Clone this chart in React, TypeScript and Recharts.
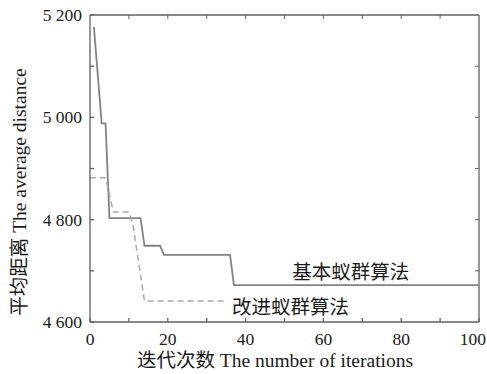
import React from 'react';
import { LineChart, Line, XAxis, YAxis, ReferenceDot, ReferenceLine } from 'recharts';

// breakpoints of the two convergence curves (iteration, average distance)
const basicIters = [1, 3, 4, 5, 13, 14, 18, 19, 36, 37, 100];
const basicValues = [5177, 4988, 4988, 4803, 4803, 4749, 4749, 4731, 4731, 4672, 4672];

const improvedIters = [0, 4, 6, 10, 11, 14, 35];
const improvedValues = [4882, 4882, 4815, 4815, 4792, 4641, 4641];

const xTicks = [0, 10, 20, 30, 40, 50, 60, 70, 80, 90, 100];
const xLabelTicks = [0, 20, 40, 60, 80, 100];
const yTicks = [4600, 4700, 4800, 4900, 5000, 5100, 5200];
const yLabelTicks = [4600, 4800, 5000, 5200];

const basicName = '基本蚁群算法';
const improvedName = '改进蚁群算法';
const xTitle = '迭代次数 The number of iterations';
const yTitle = '平均距离 The average distance';

const X_MIN = 0;
const X_MAX = 100;
const Y_MIN = 4600;
const Y_MAX = 5200;

const FONT = 'Liberation Serif, Noto Sans CJK SC, serif';
const TEXT = '#1a1a1a';
const AXIS = '#606060';

const basicData = basicIters.map((iter, i) => ({ iter, value: basicValues[i] }));
const improvedData = improvedIters.map((iter, i) => ({ iter, value: improvedValues[i] }));

// inner tick length on the top / right frame, in data units (~4px)
const TOP_TICK = (Y_MAX - Y_MIN) * 0.013;
const RIGHT_TICK = (X_MAX - X_MIN) * 0.0105;

const fmt = (v: number) => {
  const s = String(v);
  return s.slice(0, s.length - 3) + ' ' + s.slice(-3);
};

const txt = { fontFamily: FONT, fill: TEXT };

const XTick = ({ x, y, payload }: any) => {
  if (!xLabelTicks.includes(payload.value)) return <g />;
  const last = payload.value === X_MAX;
  return (
    <text x={last ? x + 7 : x} y={y} dy={19} textAnchor={last ? 'end' : 'middle'} fontSize={17.5} style={txt}>
      {payload.value}
    </text>
  );
};

const YTick = ({ x, y, payload }: any) => {
  if (!yLabelTicks.includes(payload.value)) return <g />;
  return (
    <text x={x} y={y} dy={6} textAnchor="end" fontSize={17.5} style={txt}>
      {fmt(payload.value)}
    </text>
  );
};

const seriesLabel = (text: string, dx: number, dy: number) => (props: any) => {
  const vb = props.viewBox || {};
  return (
    <text x={vb.x + dx} y={vb.y + dy} textAnchor="start" fontSize={19.5} style={txt}>
      {text}
    </text>
  );
};

const App = () => {
  return (
    <div style={{ position: 'absolute', left: 0, top: 0, background: '#fff', fontFamily: FONT }}>
      <LineChart width={487} height={374} margin={{ top: 15, right: 8, bottom: 0, left: 0 }}>
        <XAxis
          dataKey="iter"
          type="number"
          domain={[X_MIN, X_MAX]}
          ticks={xTicks}
          interval={0}
          height={52}
          stroke={AXIS}
          strokeWidth={1.3}
          tickSize={-4}
          tickMargin={8}
          tick={<XTick />}
          label={() => (
            <text x={275} y={367} textAnchor="middle" fontSize={19.5} style={txt}>
              {xTitle}
            </text>
          )}
        />
        <YAxis
          type="number"
          domain={[Y_MIN, Y_MAX]}
          ticks={yTicks}
          interval={0}
          width={90}
          stroke={AXIS}
          strokeWidth={1.3}
          tickSize={-4}
          tickMargin={12}
          tick={<YTick />}
          label={() => (
            <text
              x={26}
              y={192}
              transform="rotate(-90 26 192)"
              textAnchor="middle"
              fontSize={19.5}
              style={txt}
            >
              {yTitle}
            </text>
          )}
        />
        {/* frame: top and right borders with inner ticks */}
        <ReferenceLine y={Y_MAX} stroke={AXIS} strokeWidth={1.3} ifOverflow="visible" />
        <ReferenceLine x={X_MAX} stroke={AXIS} strokeWidth={1.3} ifOverflow="visible" />
        {xTicks.slice(1, -1).map((t) => (
          <ReferenceLine
            key={`tt-${t}`}
            segment={[{ x: t, y: Y_MAX }, { x: t, y: Y_MAX - TOP_TICK }]}
            stroke={AXIS}
            strokeWidth={1}
            ifOverflow="visible"
          />
        ))}
        {yTicks.slice(1, -1).map((t) => (
          <ReferenceLine
            key={`rt-${t}`}
            segment={[{ x: X_MAX, y: t }, { x: X_MAX - RIGHT_TICK, y: t }]}
            stroke={AXIS}
            strokeWidth={1}
            ifOverflow="visible"
          />
        ))}
        <Line
          data={basicData}
          dataKey="value"
          type="linear"
          stroke="#838383"
          strokeWidth={1.8}
          dot={false}
          activeDot={false}
          isAnimationActive={false}
        />
        <Line
          data={improvedData}
          dataKey="value"
          type="linear"
          stroke="#a8a8a8"
          strokeWidth={1.5}
          strokeDasharray="6 4"
          dot={false}
          activeDot={false}
          isAnimationActive={false}
        />
        <ReferenceDot
          x={52}
          y={4672}
          r={0}
          fill="none"
          stroke="none"
          label={seriesLabel(basicName, 0, -6)}
        />
        <ReferenceDot
          x={36.5}
          y={4641}
          r={0}
          fill="none"
          stroke="none"
          label={seriesLabel(improvedName, 0, 13)}
        />
      </LineChart>
    </div>
  );
};

export default App;
